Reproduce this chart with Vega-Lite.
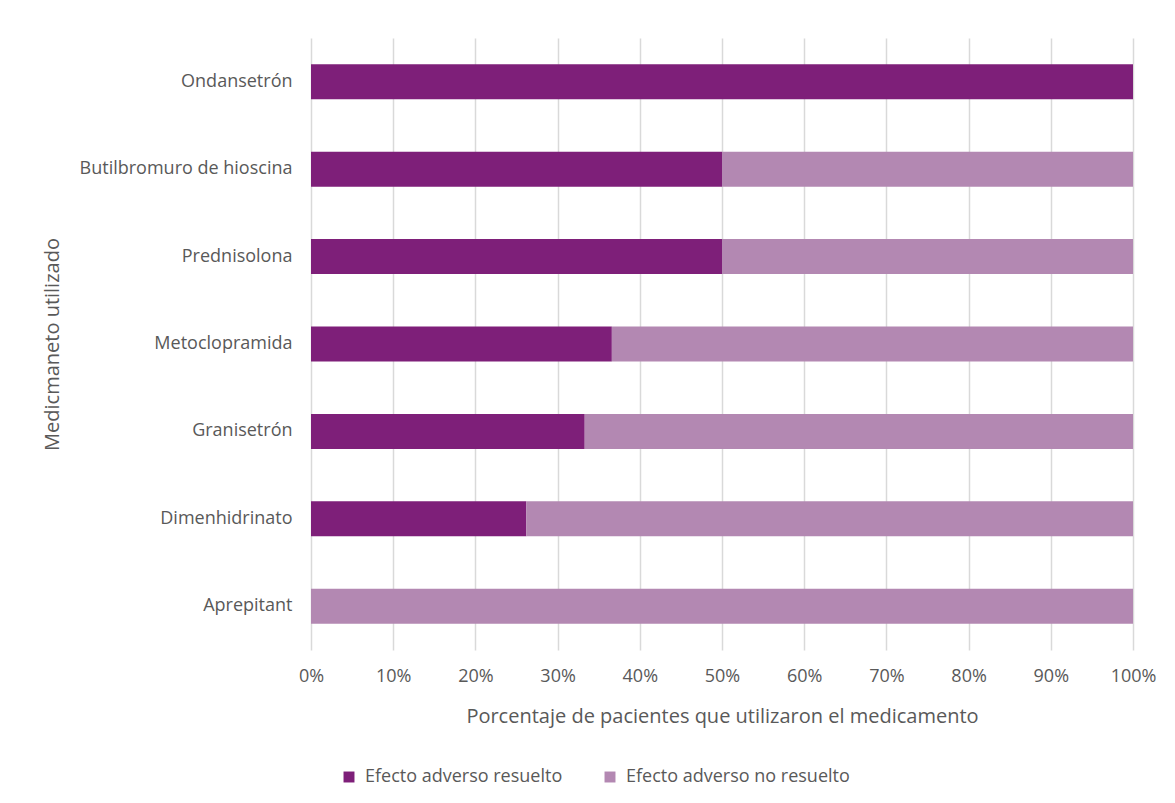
{
  "$schema": "https://vega.github.io/schema/vega-lite/v6.json",
  "width": 822,
  "height": 612,
  "autosize": {"type": "none"},
  "padding": {"left": 311, "top": 38, "right": 42, "bottom": 153},
  "background": "white",
  "data": {
    "values": [
      {"med": "Ondansetrón", "efecto": "Efecto adverso resuelto", "o": 1, "v": 1.0},
      {"med": "Ondansetrón", "efecto": "Efecto adverso no resuelto", "o": 2, "v": 0.0},
      {"med": "Butilbromuro de hioscina", "efecto": "Efecto adverso resuelto", "o": 1, "v": 0.5},
      {"med": "Butilbromuro de hioscina", "efecto": "Efecto adverso no resuelto", "o": 2, "v": 0.5},
      {"med": "Prednisolona", "efecto": "Efecto adverso resuelto", "o": 1, "v": 0.5},
      {"med": "Prednisolona", "efecto": "Efecto adverso no resuelto", "o": 2, "v": 0.5},
      {"med": "Metoclopramida", "efecto": "Efecto adverso resuelto", "o": 1, "v": 0.366},
      {"med": "Metoclopramida", "efecto": "Efecto adverso no resuelto", "o": 2, "v": 0.634},
      {"med": "Granisetrón", "efecto": "Efecto adverso resuelto", "o": 1, "v": 0.333},
      {"med": "Granisetrón", "efecto": "Efecto adverso no resuelto", "o": 2, "v": 0.667},
      {"med": "Dimenhidrinato", "efecto": "Efecto adverso resuelto", "o": 1, "v": 0.262},
      {"med": "Dimenhidrinato", "efecto": "Efecto adverso no resuelto", "o": 2, "v": 0.738},
      {"med": "Aprepitant", "efecto": "Efecto adverso resuelto", "o": 1, "v": 0.0},
      {"med": "Aprepitant", "efecto": "Efecto adverso no resuelto", "o": 2, "v": 1.0}
    ]
  },
  "mark": {"type": "bar"},
  "encoding": {
    "y": {
      "field": "med",
      "type": "nominal",
      "sort": ["Ondansetrón", "Butilbromuro de hioscina", "Prednisolona", "Metoclopramida", "Granisetrón", "Dimenhidrinato", "Aprepitant"],
      "scale": {"paddingInner": 0.6, "paddingOuter": 0.3},
      "axis": {
        "title": "Medicmaneto utilizado",
        "titleX": -259,
        "titleY": 306,
        "titleAngle": -90,
        "titleBaseline": "middle",
        "titleAlign": "center",
        "titleFontSize": 20,
        "domain": false,
        "ticks": false,
        "grid": false,
        "labelPadding": 19,
        "labelLimit": 400
      }
    },
    "x": {
      "field": "v",
      "type": "quantitative",
      "stack": "zero",
      "scale": {"domain": [0, 1], "nice": false},
      "axis": {
        "title": "Porcentaje de pacientes que utilizaron el medicamento",
        "format": ".0%",
        "values": [0, 0.1, 0.2, 0.3, 0.4, 0.5, 0.6, 0.7, 0.8, 0.9, 1.0],
        "domain": false,
        "ticks": false,
        "grid": true,
        "gridColor": "#d9d9d9",
        "gridWidth": 1.5,
        "labelPadding": 17,
        "labelFlush": false,
        "labelOverlap": false,
        "titleY": 66,
        "titleBaseline": "middle",
        "titleFontSize": 20
      }
    },
    "color": {
      "field": "efecto",
      "type": "nominal",
      "scale": {
        "domain": ["Efecto adverso resuelto", "Efecto adverso no resuelto"],
        "range": ["#7e1f79", "#b388b2"]
      },
      "legend": {
        "title": null,
        "orient": "none",
        "direction": "horizontal",
        "legendX": 29,
        "legendY": 730,
        "symbolType": "square",
        "symbolSize": 120,
        "symbolStrokeWidth": 0,
        "columnPadding": 38,
        "labelOffset": 7,
        "labelLimit": 400
      }
    },
    "order": {"field": "o", "type": "quantitative"}
  },
  "config": {
    "view": {"stroke": null},
    "font": "Open Sans",
    "axis": {
      "labelFont": "Open Sans",
      "titleFont": "Open Sans",
      "labelFontSize": 18,
      "labelColor": "#595959",
      "titleColor": "#595959",
      "titleFontWeight": "normal"
    },
    "legend": {
      "labelFont": "Open Sans",
      "labelFontSize": 18,
      "labelColor": "#595959"
    }
  }
}
